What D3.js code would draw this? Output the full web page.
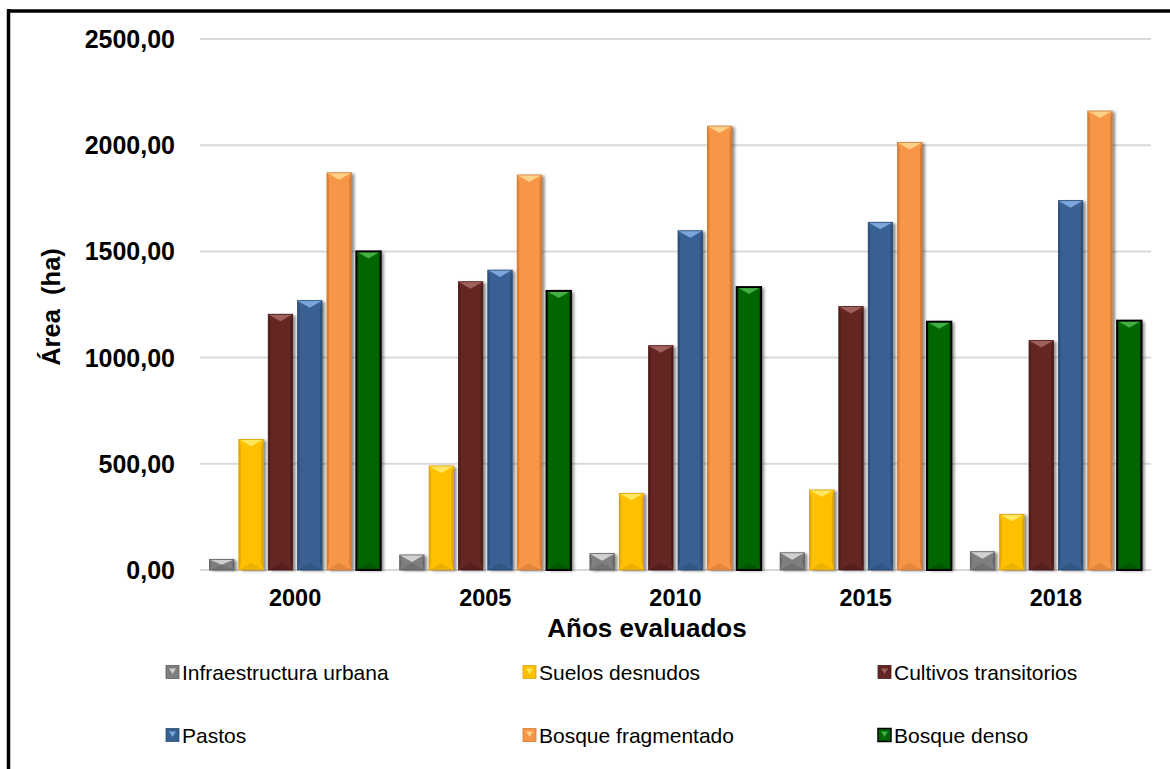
<!DOCTYPE html>
<html>
<head>
<meta charset="utf-8">
<script src="https://cdn.jsdelivr.net/npm/d3@7"></script>
<style>
  html, body { margin: 0; padding: 0; background: #fff; }
  svg { display: block; font-family: "Liberation Sans", Arial, sans-serif; }
</style>
</head>
<body>
<svg id="chart" width="1170" height="769"></svg>
<script>
const years = ["2000", "2005", "2010", "2015", "2018"];
const seriesNames = ["Infraestructura urbana", "Suelos desnudos", "Cultivos transitorios", "Pastos", "Bosque fragmentado", "Bosque denso"];
const infraestructura = [50, 71, 77, 81, 86];
const suelos = [615, 490, 361, 377, 262];
const cultivos = [1204, 1357, 1056, 1240, 1080];
const pastos = [1268, 1412, 1597, 1637, 1739];
const bosqueFrag = [1870, 1860, 2090, 2013, 2161];
const bosqueDenso = [1500, 1314, 1332, 1169, 1174];
const yTicks = [0, 500, 1000, 1500, 2000, 2500];
const colors = ["#7f7f7f", "#ffc000", "#632523", "#376092", "#f79646", "#006600"];
const lights = ["#d0d0d0", "#ffe860", "#a0605e", "#7aa6dc", "#ffd088", "#40b040"];
const darks = ["#5a5a5a", "#c89600", "#3e1514", "#24446a", "#c06a28", "#003c00"];
const strokes = ["#5f5f5f", "#d9a000", "#4a1a19", "#2a4b74", "#d07a34", "#000000"];

const allSeries = [infraestructura, suelos, cultivos, pastos, bosqueFrag, bosqueDenso];

const svg = d3.select("#chart");
const defs = svg.append("defs");
const f = defs.append("filter").attr("id", "shadow").attr("x", "-30%").attr("y", "-10%").attr("width", "170%").attr("height", "130%");
f.append("feDropShadow").attr("dx", 3).attr("dy", 1).attr("stdDeviation", 1.8).attr("flood-color", "#000").attr("flood-opacity", 0.45);

// outer frame (top and left visible)
svg.append("line").attr("x1", 8).attr("x2", 1170).attr("y1", 11).attr("y2", 11).attr("stroke", "#000").attr("stroke-width", 3.5);
svg.append("line").attr("x1", 8.5).attr("x2", 8.5).attr("y1", 9).attr("y2", 769).attr("stroke", "#000").attr("stroke-width", 3.5);

const plotLeft = 200, plotRight = 1151, plotTop = 39, plotBottom = 570;
const x0 = d3.scaleBand().domain(years).range([plotLeft, plotRight]).paddingInner(0).paddingOuter(0);
const x1 = d3.scaleBand().domain(d3.range(seriesNames.length)).range([9.5, x0.bandwidth() - 9.5]).paddingInner(0.17).paddingOuter(0);
const y = d3.scaleLinear().domain([0, 2500]).range([plotBottom, plotTop]);

// gridlines
svg.append("g").selectAll("line").data(yTicks).join("line")
  .attr("x1", plotLeft).attr("x2", plotRight)
  .attr("y1", d => y(d)).attr("y2", d => y(d))
  .attr("stroke", "#d9d9d9").attr("stroke-width", 2);

// y tick labels
svg.append("g").selectAll("text").data(yTicks).join("text")
  .attr("x", 175).attr("y", d => y(d)).attr("dy", "0.36em")
  .attr("text-anchor", "end").attr("font-size", 25).attr("font-weight", "bold").attr("fill", "#000")
  .text(d => d3.format(".2f")(d).replace(".", ","));

// y title
svg.append("text").attr("transform", "translate(60,307) rotate(-90)")
  .attr("text-anchor", "middle").attr("font-size", 25.5).attr("font-weight", "bold")
  .style("white-space", "pre").text("Área  (ha)");

// x labels
svg.append("g").selectAll("text").data(years).join("text")
  .attr("x", d => x0(d) + x0.bandwidth() / 2).attr("y", 606)
  .attr("text-anchor", "middle").attr("font-size", 23.5).attr("font-weight", "bold")
  .text(d => d);

// x title
svg.append("text").attr("x", 647).attr("y", 637).attr("text-anchor", "middle")
  .attr("font-size", 26).attr("font-weight", "bold").text("Años evaluados");

function bevelBar(g, x, yy, w, h, i, sw) {
  const b = Math.min(7, h / 2);
  g.append("rect").attr("x", x).attr("y", yy).attr("width", w).attr("height", h)
    .attr("fill", colors[i]).attr("filter", "url(#shadow)");
  // side bevels
  g.append("polygon").attr("points", [[x, yy], [x + 2, yy + b], [x + 2, yy + h - b], [x, yy + h]].join(" "))
    .attr("fill", darks[i]).attr("opacity", 0.5);
  g.append("polygon").attr("points", [[x + w, yy], [x + w - 2, yy + b], [x + w - 2, yy + h - b], [x + w, yy + h]].join(" "))
    .attr("fill", darks[i]).attr("opacity", 0.6);
  // top facet
  g.append("polygon").attr("points", [[x, yy], [x + w, yy], [x + w / 2, yy + b]].join(" "))
    .attr("fill", lights[i]);
  // bottom facet
  g.append("polygon").attr("points", [[x, yy + h], [x + w, yy + h], [x + w / 2, yy + h - b]].join(" "))
    .attr("fill", darks[i]).attr("opacity", 0.35);
  g.append("rect").attr("x", x).attr("y", yy).attr("width", w).attr("height", h)
    .attr("fill", "none").attr("stroke", strokes[i]).attr("stroke-width", sw);
}

// bars
const barsG = svg.append("g");
years.forEach((yr, j) => {
  allSeries.forEach((vals, i) => {
    const v = vals[j];
    const bx = x0(yr) + x1(i);
    const by = y(v);
    const bh = y(0) - y(v);
    const g = barsG.append("g");
    bevelBar(g, bx, by, x1.bandwidth(), bh, i, i === 5 ? 2 : 0.8);
  });
});

// legend
const legendPos = [
  [166, 672], [523, 672], [878, 672],
  [166, 735], [523, 735], [878, 735]
];
const legG = svg.append("g");
seriesNames.forEach((name, i) => {
  const [lx, ly] = legendPos[i];
  const g = legG.append("g");
  const s = 13;
  g.append("rect").attr("x", lx).attr("y", ly - s / 2).attr("width", s).attr("height", s).attr("fill", colors[i])
    .attr("stroke", i === 5 ? "#000" : strokes[i]).attr("stroke-width", i === 5 ? 1.5 : 0.8);
  g.append("polygon").attr("points", [[lx + 3, ly - s / 2 + 3], [lx + s - 3, ly - s / 2 + 3], [lx + s / 2, ly + 2]].join(" "))
    .attr("fill", lights[i]);
  g.append("text").attr("x", lx + s + 3).attr("y", ly).attr("dy", "0.36em")
    .attr("font-size", 21).attr("fill", "#000").text(name);
});
</script>
</body>
</html>
